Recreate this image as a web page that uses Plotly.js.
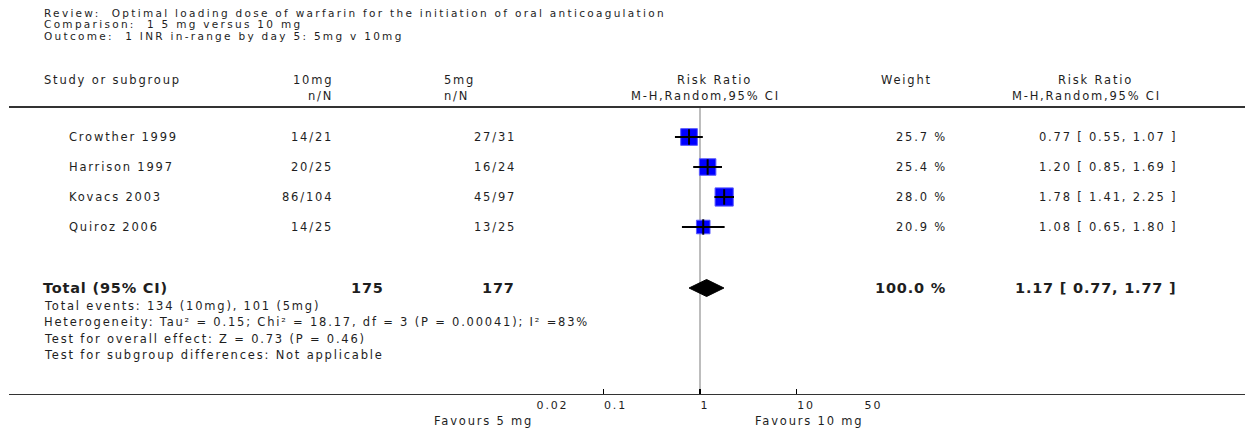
<!DOCTYPE html>
<html>
<head>
<meta charset="utf-8">
<script src="https://cdn.plot.ly/plotly-3.0.1.min.js"></script>
<style>
html,body{margin:0;padding:0;background:#fff;}
#chart{width:1245px;height:432px;}
.xtick text{letter-spacing:1.8px;}
</style>
</head>
<body>
<div id="chart"></div>
<script>
// ---- data ----
const studies = ['Crowther 1999', 'Harrison 1997', 'Kovacs 2003', 'Quiroz 2006'];
const events10 = [14, 20, 86, 14];
const total10 = [21, 25, 104, 25];
const events5 = [27, 16, 45, 13];
const total5 = [31, 24, 97, 25];
const rr = [0.77, 1.20, 1.78, 1.08];
const rrLow = [0.55, 0.85, 1.41, 0.65];
const rrHigh = [1.07, 1.69, 2.25, 1.80];
const weights = [25.7, 25.4, 28.0, 20.9];
const pooledRR = [1.17];
const pooledLow = [0.77];
const pooledHigh = [1.77];
const totalN10 = 175, totalN5 = 177;
const tickVals = [0.02, 0.1, 1, 10, 50];
const tickText = ['0.02', '0.1', '1', '10', '50'];
const titleLines = [
  'Review:  Optimal loading dose of warfarin for the initiation of oral anticoagulation',
  'Comparison:  1 5 mg versus 10 mg',
  'Outcome:  1 INR in-range by day 5: 5mg v 10mg'
];
const footerLines = [
  'Total events: 134 (10mg), 101 (5mg)',
  'Heterogeneity: Tau² = 0.15; Chi² = 18.17, df = 3 (P = 0.00041); I² =83%',
  'Test for overall effect: Z = 0.73 (P = 0.46)',
  'Test for subgroup differences: Not applicable'
];

// ---- layout helpers ----
const W = 1245, H = 432;
const AXIS_Y = 395;
const FONT = 'DejaVu Sans, Verdana, sans-serif';
const TXT = '#1e1e1e';
const rowY = i => 137 + 30 * i;
const totalY = 288;
const px = v => v / W;

const annotations = [];
function ann(text, x, y, anchor, size, ls, bold, yref) {
  const inner = '<span style="letter-spacing:' + ls + 'px">' + text + '</span>';
  // letter-spacing leaves a trailing gap; compensate for right/center anchors
  const shift = anchor === 'right' ? ls : (anchor === 'center' ? ls / 2 : 0);
  annotations.push({
    text: bold ? '<b>' + inner + '</b>' : inner,
    x: px(x + shift), xref: 'paper', y: y, yref: yref || 'y',
    xanchor: anchor, yanchor: 'middle', showarrow: false,
    font: {family: FONT, size: size, color: TXT}
  });
}
const S = 11.5, LS = 1.8;
const BS = 14.5, BLS = 0.8;

titleLines.forEach((t, i) => ann(t, 42, 12.5 + 11.5 * i, 'left', 10.5, 2.3));

// headers
ann('Study or subgroup', 42, 80, 'left', S, LS);
ann('10mg', 333, 80, 'right', S, LS);
ann('n/N', 333, 96, 'right', S, LS);
ann('5mg', 442, 80, 'left', S, LS);
ann('n/N', 442, 96, 'left', S, LS);
ann('Risk Ratio', 714, 80, 'center', S, LS);
ann('M-H,Random,95% CI', 705, 96, 'center', S, LS);
ann('Weight', 879, 80, 'left', S, LS);
ann('Risk Ratio', 1095, 80, 'center', S, LS);
ann('M-H,Random,95% CI', 1086, 96, 'center', S, LS);

// study rows
studies.forEach((s, i) => {
  const y = rowY(i);
  ann(s, 67, y, 'left', S, LS);
  ann(events10[i] + '/' + total10[i], 333, y, 'right', S, LS);
  ann(events5[i] + '/' + total5[i], 516, y, 'right', S, LS);
  ann(weights[i].toFixed(1) + ' %', 947, y, 'right', S, LS);
  ann(rr[i].toFixed(2) + ' [ ' + rrLow[i].toFixed(2) + ', ' + rrHigh[i].toFixed(2) + ' ]', 1177, y, 'right', S, LS);
});

// total row
ann('Total (95% CI)', 41, totalY, 'left', BS, BLS, true);
ann(String(totalN10), 385, totalY, 'right', BS, BLS, true);
ann(String(totalN5), 516, totalY, 'right', BS, BLS, true);
ann(weights.reduce((a, b) => a + b, 0).toFixed(1) + ' %', 947, totalY, 'right', BS, BLS, true);
ann(pooledRR[0].toFixed(2) + ' [ ' + pooledLow[0].toFixed(2) + ', ' + pooledHigh[0].toFixed(2) + ' ]', 1177, totalY, 'right', BS, BLS, true);

footerLines.forEach((t, i) => ann(t, 42, 306 + 16.4 * i, 'left', S, LS));

// favours labels (below the axis, paper coords)
ann('Favours 5 mg', 533, 1 - 421 / H, 'right', S, LS, false, 'paper');
ann('Favours 10 mg', 753, 1 - 421 / H, 'left', S, LS, false, 'paper');

// ---- traces ----
const ys = studies.map((s, i) => rowY(i));
const ciX = [], ciY = [];
rr.forEach((v, i) => { ciX.push(rrLow[i], rrHigh[i], null); ciY.push(ys[i], ys[i], null); });

const squares = {
  type: 'scatter', mode: 'markers', x: rr, y: ys,
  marker: {symbol: 'square', size: weights.map(w => w * 0.65), color: '#0000ff', opacity: 1,
           line: {color: '#5a5aff', width: 1}},
  hoverinfo: 'skip', cliponaxis: false
};
const ciLines = {
  type: 'scatter', mode: 'lines', x: ciX, y: ciY,
  line: {color: '#000', width: 2}, hoverinfo: 'skip', cliponaxis: false
};
const ticksTr = {
  type: 'scatter', mode: 'markers', x: rr, y: ys,
  marker: {symbol: 'line-ns', size: 11, opacity: 1, line: {color: '#000', width: 2}},
  hoverinfo: 'skip', cliponaxis: false
};
const dh = 8.5;
const diamond = {
  type: 'scatter', mode: 'lines',
  x: [pooledLow[0], pooledRR[0], pooledHigh[0], pooledRR[0], pooledLow[0]],
  y: [totalY, totalY - dh, totalY, totalY + dh, totalY],
  fill: 'toself', fillcolor: '#000', line: {color: '#000', width: 1},
  hoverinfo: 'skip'
};

const layout = {
  width: W, height: H,
  margin: {l: 0, r: 0, t: 0, b: 0},
  paper_bgcolor: '#fff', plot_bgcolor: '#fff',
  showlegend: false,
  font: {family: FONT, size: 11, color: TXT},
  xaxis: {
    type: 'log', range: [Math.log10(0.02), Math.log10(50)],
    domain: [536 / W, 864 / W], anchor: 'y',
    tickvals: tickVals, ticktext: tickText,
    ticks: 'inside', ticklen: 6, tickwidth: 1.2, tickcolor: '#000',
    ticklabelposition: 'outside right', ticklabelstandoff: 2,
    tickfont: {family: FONT, size: 11, color: TXT},
    showgrid: false, zeroline: false, showline: false, fixedrange: true
  },
  yaxis: {
    range: [AXIS_Y, 0], domain: [(H - AXIS_Y) / H, 1],
    visible: false, showgrid: false, zeroline: false, fixedrange: true
  },
  shapes: [
    {type: 'line', xref: 'x', yref: 'y', x0: 1, x1: 1, y0: 107, y1: AXIS_Y,
     line: {color: '#bdbdbd', width: 2}, layer: 'below'},
    {type: 'line', xref: 'paper', yref: 'y', x0: px(9), x1: 1, y0: 107, y1: 107,
     line: {color: '#333', width: 2}},
    {type: 'line', xref: 'paper', yref: 'y', x0: px(9), x1: 1, y0: AXIS_Y, y1: AXIS_Y,
     line: {color: '#333', width: 2}}
  ],
  annotations: annotations
};

Plotly.newPlot('chart', [squares, ciLines, ticksTr, diamond], layout, {staticPlot: true, displayModeBar: false});
</script>
</body>
</html>
